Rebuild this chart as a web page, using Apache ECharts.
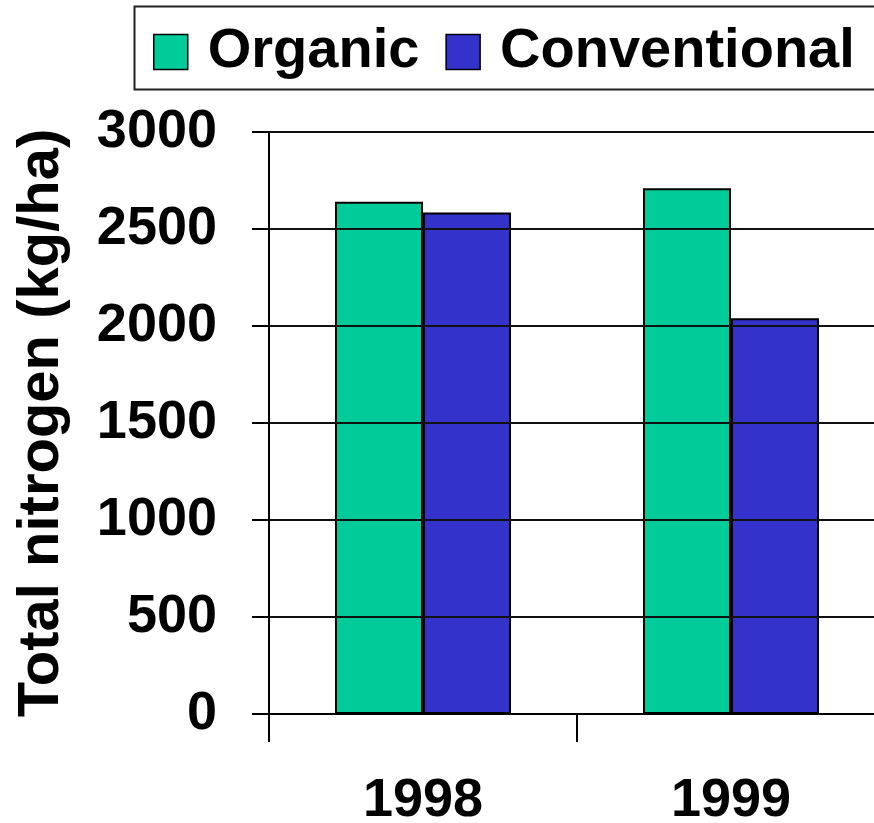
<!DOCTYPE html>
<html>
<head>
<meta charset="utf-8">
<style>
  html, body { margin: 0; padding: 0; background: #fff; }
  #chart { width: 874px; height: 823px; }
</style>
<script src="https://cdn.jsdelivr.net/npm/echarts@6/dist/echarts.min.js"></script>
</head>
<body>
<div id="chart"></div>
<script>
// Total soil nitrogen by farming system and year
const years = ['1998', '1999'];
const organic = [2640, 2710];
const conventional = [2585, 2040];
const yTicks = { min: 0, max: 3000, step: 500 };

const FONT = '"Liberation Sans", Arial, sans-serif';

const chart = echarts.init(document.getElementById('chart'), null, { renderer: 'canvas' });

chart.setOption({
  backgroundColor: '#ffffff',
  animation: false,
  graphic: [{
    type: 'rect',
    shape: { x: 134.5, y: 6.5, width: 760, height: 83 },
    style: { fill: '#fff', stroke: '#222', lineWidth: 2 },
    z: 0
  }],
  legend: {
    left: 153,
    top: 24,
    padding: 0,
    itemWidth: 34,
    itemHeight: 35,
    itemGap: 26,
    icon: 'rect',
    itemStyle: { borderColor: '#000', borderWidth: 1.5 },
    textStyle: {
      fontFamily: FONT, fontWeight: 'bold', fontSize: 56, color: '#000',
      padding: [0, 0, 0, 15]
    },
    z: 5
  },
  grid: {
    left: 269, top: 132, right: -11, bottom: 109,
    containLabel: false,
    outerBoundsMode: 'none'
  },
  xAxis: {
    type: 'category',
    data: years,
    axisLine: { lineStyle: { color: '#000', width: 2 } },
    axisTick: { show: true, length: 28, lineStyle: { color: '#000', width: 2 } },
    axisLabel: {
      fontFamily: FONT, fontWeight: 'bold', fontSize: 54, color: '#000', margin: 60
    },
    z: 10
  },
  yAxis: {
    type: 'value',
    min: yTicks.min,
    max: yTicks.max,
    interval: yTicks.step,
    name: 'Total nitrogen (kg/ha)',
    nameLocation: 'middle',
    nameRotate: 90,
    nameGap: 198,
    nameTextStyle: { fontFamily: FONT, fontWeight: 'bold', fontSize: 58, color: '#000' },
    axisLine: { show: true, lineStyle: { color: '#000', width: 2 } },
    axisTick: { show: true, length: 17, lineStyle: { color: '#000', width: 2 } },
    axisLabel: {
      fontFamily: FONT, fontWeight: 'bold', fontSize: 54, color: '#000', margin: 52,
      formatter: (v) => String(v)
    },
    splitLine: { show: true, lineStyle: { color: '#111', width: 2 } },
    z: 10
  },
  series: [
    {
      name: 'Organic',
      type: 'bar',
      data: organic,
      barWidth: 88,
      barGap: '0%',
      itemStyle: { color: '#00CC99', borderColor: '#000', borderWidth: 2 }
    },
    {
      name: 'Conventional',
      type: 'bar',
      data: conventional,
      barWidth: 88,
      barGap: '0%',
      itemStyle: { color: '#3333CC', borderColor: '#000', borderWidth: 2 }
    }
  ]
});
</script>
</body>
</html>
